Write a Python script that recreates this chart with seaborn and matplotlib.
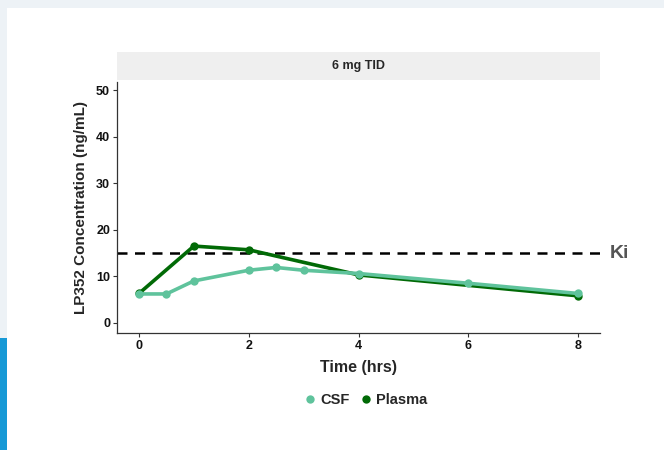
import numpy as np
import pandas as pd
import matplotlib
matplotlib.use("Agg")
import matplotlib.pyplot as plt
from matplotlib.lines import Line2D
from matplotlib.patches import Rectangle
import seaborn as sns

# Values
csf_time = [0, 0.5, 1, 2, 2.5, 3, 4, 6, 8]
csf_conc = [6.2, 6.2, 9.0, 11.3, 11.9, 11.3, 10.6, 8.5, 6.3]
plasma_time = [0, 1, 2, 4, 8]
plasma_conc = [6.3, 16.5, 15.7, 10.3, 5.8]
ki_value = 15
panel_title = "6 mg TID"
x_ticks = [0, 2, 4, 6, 8]
y_ticks = [0, 10, 20, 30, 40, 50]

colors = {"CSF": "#5fc39c", "Plasma": "#016a06"}

df = pd.concat([
    pd.DataFrame({"time": csf_time, "conc": csf_conc, "matrix": "CSF"}),
    pd.DataFrame({"time": plasma_time, "conc": plasma_conc, "matrix": "Plasma"}),
], ignore_index=True)

sns.set_style("white")
plt.rcParams["font.family"] = ["Liberation Sans", "DejaVu Sans"]

fig = plt.figure(figsize=(6.64, 4.5), dpi=100)
fig.patch.set_facecolor("#edf2f6")
# slide background: white card plus blue accent bar on the left
fig.add_artist(Rectangle((7 / 664, 0), 1, 1 - 8 / 450, transform=fig.transFigure,
                         facecolor="white", edgecolor="none", zorder=0))
fig.add_artist(Rectangle((0, 0), 7 / 664, 1 - 338 / 450, transform=fig.transFigure,
                         facecolor="#1799d6", edgecolor="none", zorder=0))

ax = fig.add_axes([117 / 664, 1 - 333 / 450, 483 / 664, 251 / 450])
ax.set_facecolor("none")

sns.lineplot(data=df, x="time", y="conc", hue="matrix", palette=colors,
             hue_order=["Plasma", "CSF"], marker="o", markersize=6,
             markeredgewidth=0, linewidth=2.6, legend=False, ax=ax)

ax.axhline(ki_value, color="black", linestyle=(0, (4, 3)), linewidth=1.8, zorder=1)
ax.text(1.02, ki_value, "Ki", transform=ax.get_yaxis_transform(), color="#555555",
        fontsize=14, fontweight="bold", va="center", ha="left", clip_on=False)

ax.set_xlim(-0.4, 8.4)
ax.set_ylim(-2.2, 51.8)
ax.set_xticks(x_ticks)
ax.set_yticks(y_ticks)
for side in ["top", "right"]:
    ax.spines[side].set_visible(False)
for side in ["left", "bottom"]:
    ax.spines[side].set_color("#333333")
    ax.spines[side].set_linewidth(0.9)
ax.tick_params(axis="both", direction="out", length=3, width=0.8, color="#333333",
               labelsize=9, pad=2, bottom=True, left=True, labelcolor="#111111")
for lab in ax.get_xticklabels() + ax.get_yticklabels():
    lab.set_fontweight("bold")
ax.set_xlabel("Time (hrs)", fontsize=11.5, fontweight="bold", labelpad=6)
ax.set_ylabel("LP352 Concentration (ng/mL)", fontsize=11, fontweight="bold", labelpad=6)

# facet strip on top
strip = fig.add_axes([117 / 664, 1 - 80 / 450, 483 / 664, 28 / 450])
strip.set_facecolor("#efefef")
strip.set_xticks([])
strip.set_yticks([])
for s in strip.spines.values():
    s.set_visible(False)
strip.text(0.5, 0.5, panel_title, ha="center", va="center", fontsize=9,
           fontweight="bold", transform=strip.transAxes)

handles = [Line2D([], [], linestyle="none", marker="o", markersize=6,
                  color=colors[k], markeredgewidth=0) for k in ["CSF", "Plasma"]]
fig.legend(handles, ["CSF", "Plasma"], loc="center", bbox_to_anchor=(365 / 664, 1 - 400 / 450),
           ncol=2, frameon=False, handletextpad=0.2, columnspacing=0.6,
           prop={"weight": "bold", "size": 10.5}, handlelength=1.0)

fig.savefig("out.png", dpi=100)
